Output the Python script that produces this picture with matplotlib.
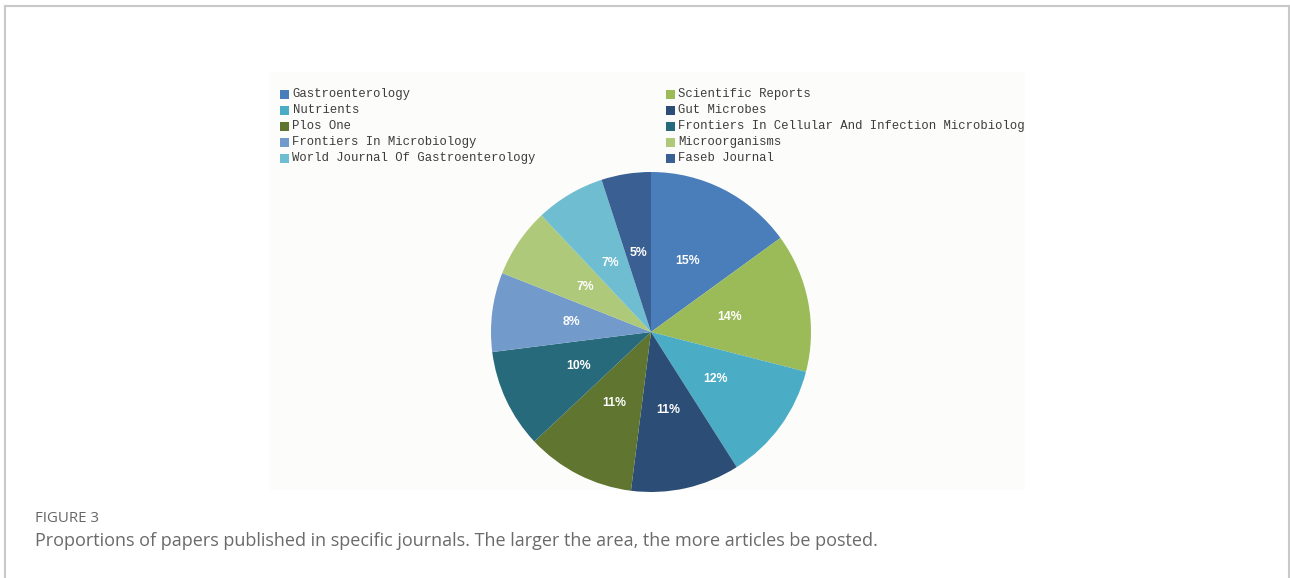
import matplotlib
matplotlib.use("Agg")
import matplotlib.pyplot as plt
from matplotlib.patches import Rectangle
from matplotlib.lines import Line2D

journals = ["Gastroenterology", "Scientific Reports", "Nutrients", "Gut Microbes",
            "Plos One", "Frontiers In Cellular And Infection Microbiology",
            "Frontiers In Microbiology", "Microorganisms",
            "World Journal Of Gastroenterology", "Faseb Journal"]
shares = [15, 14, 12, 11, 11, 10, 8, 7, 7, 5]
colors = ["#4a7ebb", "#9bbb59", "#4bacc6", "#2c4d75", "#5f7530",
          "#276a7c", "#729aca", "#afc97a", "#6fbdd1", "#3a5f93"]
caption_title = "FIGURE 3"
caption_text = "Proportions of papers published in specific journals. The larger the area, the more articles be posted."

W, H = 1290, 578
fig = plt.figure(figsize=(W / 100, H / 100), dpi=100)
fig.patch.set_facecolor("white")

def fx(px):
    return px / W

def fy(py):
    return 1 - py / H

# outer frame (no bottom edge)
frame_c = "#c9c9c9"
fig.add_artist(Line2D([fx(4.5), fx(4.5)], [fy(6), fy(590)], color=frame_c, lw=1.5, transform=fig.transFigure))
fig.add_artist(Line2D([fx(4.5), fx(1289)], [fy(6), fy(6)], color=frame_c, lw=1.5, transform=fig.transFigure))
fig.add_artist(Line2D([fx(1289), fx(1289)], [fy(6), fy(590)], color=frame_c, lw=1.5, transform=fig.transFigure))

# chart image background region
bx0, bx1, by0, by1 = 270, 1025, 72, 490
bg = fig.add_axes([fx(bx0), fy(by1), fx(bx1 - bx0), (by1 - by0) / H])
bg.set_facecolor("#fcfdfa")
bg.set_xticks([]); bg.set_yticks([])
for s in bg.spines.values():
    s.set_visible(False)
bg.set_xlim(bx0, bx1)
bg.set_ylim(by1, by0)

# legend (row-wise, 2 columns), clipped to the chart region
col_x = [280, 666]
row_y = [94, 110, 126, 142, 158]
for i, (name, c) in enumerate(zip(journals, colors)):
    r, col = divmod(i, 2)
    x = col_x[col]
    y = row_y[r]
    bg.add_patch(Rectangle((x, y - 4.5), 9, 9, facecolor=c, edgecolor="none"))
    bg.text(x + 12.5, y, name, fontsize=8.8, family="Liberation Mono", color="#3c3c3c",
            va="center", ha="left", clip_on=True)

# pie
cx, cy, r = 651, 332, 160
ax = fig.add_axes([fx(cx - r), fy(cy + r), fx(2 * r), 2 * r / H])
wedges, texts, autotexts = ax.pie(shares, colors=colors, startangle=90, counterclock=False,
                                  autopct=lambda p: f"{p:.0f}%", pctdistance=0.5,
                                  wedgeprops=dict(linewidth=0))
for t in autotexts:
    t.set_color("white")
    t.set_fontsize(8.8)
    t.set_fontweight("bold")
    t.set_family("Liberation Sans")
ax.set_xlim(-1, 1)
ax.set_ylim(-1, 1)
ax.set_aspect("equal")
ax.axis("off")

# caption
fig.text(fx(35), fy(519), caption_title, fontsize=10.8, family="Open Sans", color="#666666",
         va="center", ha="left")
fig.text(fx(35), fy(541), caption_text, fontsize=13, family="Open Sans", color="#6a6a6a",
         va="center", ha="left")

fig.savefig("out.png", dpi=100, facecolor="white")
